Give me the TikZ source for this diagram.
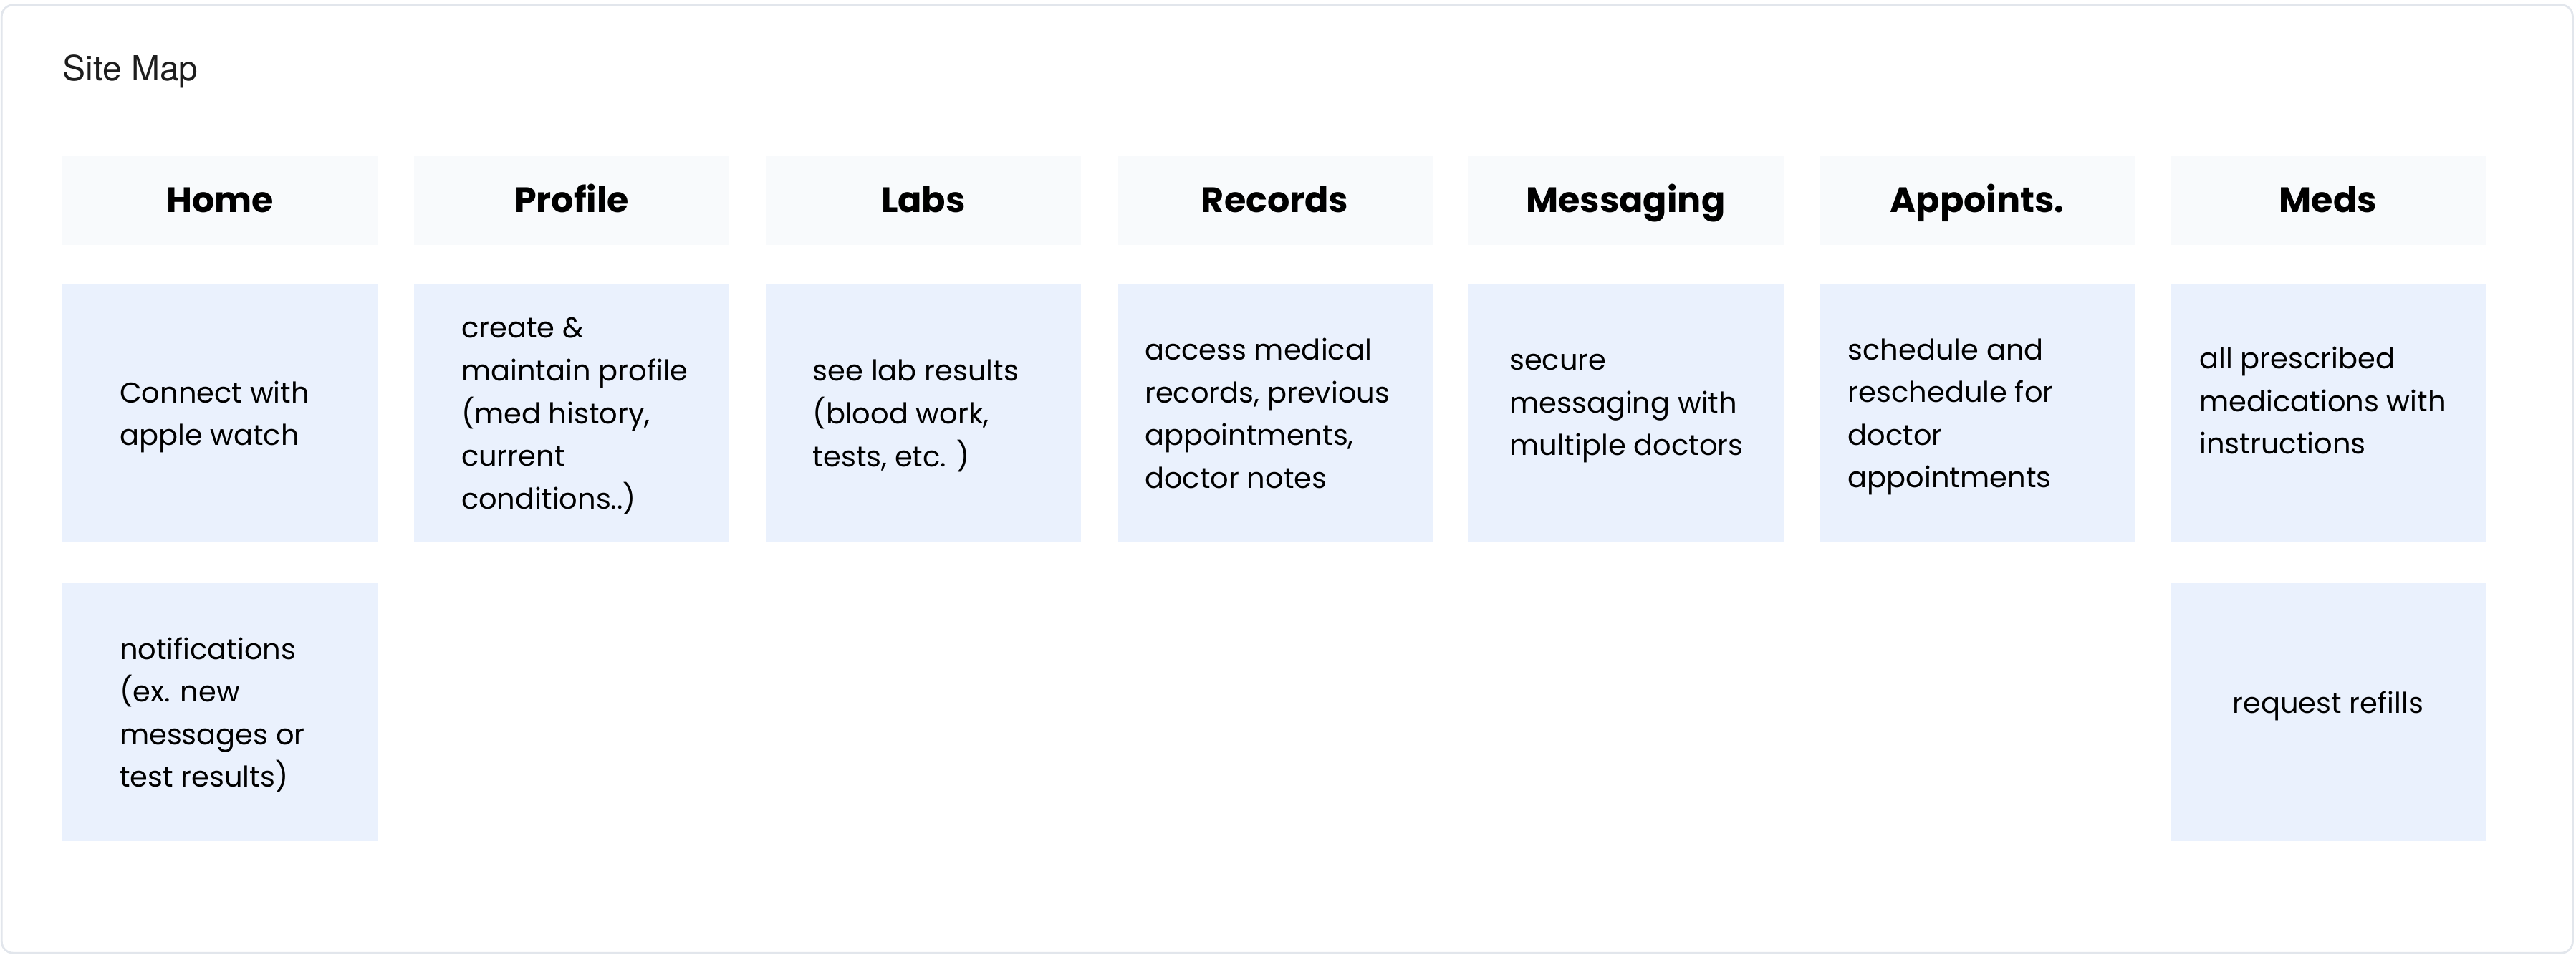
\documentclass[tikz,border=0pt]{standalone}
\usepackage{fontspec}
\setmainfont{Poppins}
\newfontfamily\mapfont{TeX Gyre Heros}
\definecolor{cFrame}{RGB}{226,230,236}
\definecolor{cHead}{RGB}{248,250,252}
\definecolor{cCard}{RGB}{234,241,253}
\definecolor{cInk}{RGB}{30,30,30}

\begin{document}
\begin{tikzpicture}[x=0.5734pt,y=-0.5734pt,
  hdr/.style={fill=cHead,minimum width=110.1pt,minimum height=31pt,inner sep=0pt,
    text height=8.6pt,text depth=0pt,font=\fontsize{12.3}{15}\selectfont\bfseries},
  card/.style={fill=cCard,minimum width=110.1pt,minimum height=90pt,inner sep=0pt},
  txt/.style={inner sep=0pt,text depth=0pt,align=left,font=\fontsize{10}{14.9}\selectfont}]
  \useasboundingbox (0,0) rectangle (1568,584);
  \draw[cFrame,line width=0.7pt,fill=white,rounded corners=4pt] (1,3) rectangle (1566,580);
  \node[anchor=base west,inner sep=0pt,text=cInk,font=\mapfont\fontsize{12}{14}\selectfont] (title) at (38,49) {Site Map};
  % column headers
  \node[hdr] (home) at (134,122) {Home};
  \node[hdr] (profile) at (348,122) {Profile};
  \node[hdr] (labs) at (562,122) {Labs};
  \node[hdr] (records) at (776,122) {Records};
  \node[hdr] (msg) at (989.5,122) {Messaging};
  \node[hdr] (appts) at (1203.5,122) {Appoints.};
  \node[hdr] (meds) at (1417,122) {Meds};
  % cards
  \node[card] (homeA) at (134,251.5) {};
  \node[card] (profileA) at (348,251.5) {};
  \node[card] (labsA) at (562,251.5) {};
  \node[card] (recordsA) at (776,251.5) {};
  \node[card] (msgA) at (989.5,251.5) {};
  \node[card] (apptsA) at (1203.5,251.5) {};
  \node[card] (medsA) at (1417,251.5) {};
  \node[card] (homeB) at (134,433.5) {};
  \node[card] (medsB) at (1417,433.5) {};
  % card texts, left edges as in the sketch
  \node[txt,anchor=west] (homeAt) at (72.5,251.5) {Connect with\\apple watch};
  \node[txt,anchor=west] (profileAt) at (280.5,251.5) {create \&\\maintain profile\\(med history,\\current\\conditions..)};
  \node[txt,anchor=west] (labsAt) at (494.5,251.5) {see lab results\\(blood work,\\tests, etc. )};
  \node[txt,anchor=west] (recordsAt) at (696.5,251.5) {access medical\\records, previous\\appointments,\\doctor notes};
  \node[txt,anchor=west] (msgAt) at (918.5,251.5) {secure\\messaging with\\multiple doctors\\[-9pt]\mbox{}};
  \node[txt,anchor=west] (apptsAt) at (1124.5,251.5) {schedule and\\reschedule for\\doctor\\appointments};
  \node[txt,anchor=west] (medsAt) at (1338.5,251.5) {all prescribed\\medications with\\instructions\\[-6pt]\mbox{}};
  \node[txt,anchor=west] (homeBt) at (72.5,433.5) {notifications\\(ex. new\\messages or\\test results)};
  \node[txt] (medsBt) at (medsB) {request refills\\[-8pt]\mbox{}};
\end{tikzpicture}
\end{document}
